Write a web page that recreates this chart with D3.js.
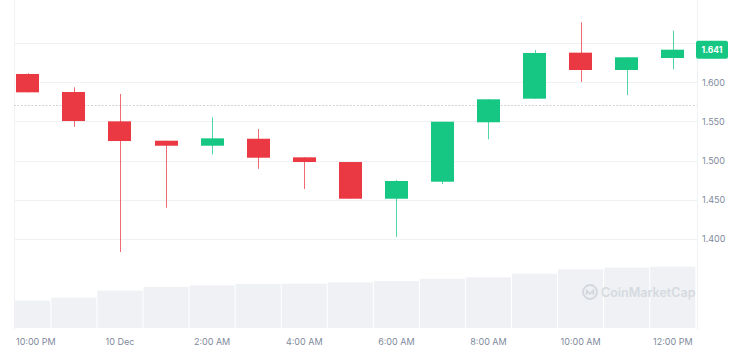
<!DOCTYPE html>
<html>
<head>
<meta charset="utf-8">
<script src="https://cdn.jsdelivr.net/npm/d3@7"></script>
<style>
  html, body { margin: 0; padding: 0; background: #fff; }
  svg { display: block; font-family: Inter, "Noto Sans", sans-serif; }
</style>
</head>
<body>
<svg id="chart" width="740" height="357"></svg>
<script>
// ---- data ----
const times = ["2023-12-09T22:00","2023-12-09T23:00","2023-12-10T00:00","2023-12-10T01:00","2023-12-10T02:00",
  "2023-12-10T03:00","2023-12-10T04:00","2023-12-10T05:00","2023-12-10T06:00","2023-12-10T07:00",
  "2023-12-10T08:00","2023-12-10T09:00","2023-12-10T10:00","2023-12-10T11:00","2023-12-10T12:00"];
const open  = [1.6106,1.5876,1.5502,1.5255,1.5191,1.5280,1.5043,1.4983,1.4515,1.4732,1.5490,1.5791,1.6378,1.6157,1.6310];
const high  = [1.6115,1.5936,1.5851,1.5255,1.5553,1.5404,1.5043,1.4983,1.4753,1.5497,1.5783,1.6412,1.6766,1.6319,1.6658];
const low   = [1.5872,1.5433,1.3835,1.4400,1.5081,1.4897,1.4638,1.4515,1.4030,1.4702,1.5273,1.5791,1.6004,1.5838,1.6166];
const close = [1.5872,1.5506,1.5251,1.5191,1.5285,1.5038,1.4983,1.4515,1.4741,1.5497,1.5783,1.6374,1.6157,1.6319,1.6416];
const volume = [273,303,373,410,427,440,443,457,470,493,507,543,587,603,613];
const priceTicks = [1.400,1.450,1.500,1.550,1.600,1.650];
const priceLabels = ["1.400","1.450","1.500","1.550","1.600"];
const xTickTimes = ["2023-12-09T22:00","2023-12-10T00:00","2023-12-10T02:00","2023-12-10T04:00","2023-12-10T06:00","2023-12-10T08:00","2023-12-10T10:00","2023-12-10T12:00"];
const xTickLabels = ["10:00 PM","10 Dec","2:00 AM","4:00 AM","6:00 AM","8:00 AM","10:00 AM","12:00 PM"];
const referencePrice = 1.571;
const lastPrice = 1.641;

// ---- layout ----
const svg = d3.select("#chart");
const plotL = 14, plotR = 697, volBottom = 328, plotBottom = 330;
const RED = "#ea3943", GREEN = "#16c784";
const parse = d3.isoParse;
const t0 = parse(times[0]);
const hour = 3600e3;
const x = d3.scaleTime()
  .domain([new Date(+t0 - 0.3 * hour), new Date(+t0 + 14.526 * hour)])
  .range([plotL, plotR]);
const step = x(parse(times[1])) - x(parse(times[0]));
const y = d3.scaleLinear().domain([1.35, 1.70]).range([278.3, 3.9]);
const yv = d3.scaleLinear().domain([0, 1000]).range([volBottom, volBottom - 100]);

const defs = svg.append("defs");
defs.append("clipPath").attr("id", "plotclip")
  .append("rect").attr("x", plotL).attr("y", 0).attr("width", plotR - plotL).attr("height", plotBottom);

// grid
svg.append("g").selectAll("line").data(priceTicks).join("line")
  .attr("x1", plotL).attr("x2", plotR)
  .attr("y1", d => Math.round(y(d)) + 0.5).attr("y2", d => Math.round(y(d)) + 0.5)
  .attr("stroke", "#eff2f5").attr("stroke-width", 1);

// borders
[plotL, plotR].forEach(px => {
  svg.append("line").attr("x1", px + 0.5).attr("x2", px + 0.5).attr("y1", 0).attr("y2", plotBottom)
    .attr("stroke", "#eff2f5");
});

// volume
svg.append("g").attr("clip-path", "url(#plotclip)")
  .selectAll("rect").data(volume).join("rect")
  .attr("x", (d, i) => x(parse(times[i])) - step / 2 + 0.5)
  .attr("width", step - 1)
  .attr("y", d => yv(d))
  .attr("height", d => volBottom - yv(d))
  .attr("fill", "#eff1f4");

// watermark
const wm = svg.append("g").attr("transform", "translate(590,292)");
wm.append("circle").attr("r", 7).attr("fill", "none").attr("stroke", "#d3d7de").attr("stroke-width", 1.8);
wm.append("path").attr("d", "M-3.5,3 L-3.5,-2 L0,2 L3.5,-2 L3.5,3").attr("fill", "none")
  .attr("stroke", "#d3d7de").attr("stroke-width", 1.6).attr("stroke-linejoin", "round");
wm.append("text").attr("x", 11).attr("y", 4.5).text("CoinMarketCap")
  .attr("font-size", 12.5).attr("font-weight", 600).attr("fill", "#d6dae0");

// reference dashed line
svg.append("line").attr("x1", plotL).attr("x2", plotR)
  .attr("y1", Math.round(y(referencePrice)) + 0.5).attr("y2", Math.round(y(referencePrice)) + 0.5)
  .attr("stroke", "#cfd4db").attr("stroke-dasharray", "2,1.5");

// candles
const idx = d3.range(times.length);
const cw = 23;
const candles = svg.append("g").selectAll("g").data(idx).join("g");
candles.append("line")
  .attr("x1", i => Math.round(x(parse(times[i]))) + 0.5)
  .attr("x2", i => Math.round(x(parse(times[i]))) + 0.5)
  .attr("y1", i => y(high[i])).attr("y2", i => y(low[i]))
  .attr("stroke", i => close[i] >= open[i] ? GREEN : RED)
  .attr("stroke-opacity", 0.75);
candles.append("rect")
  .attr("x", i => Math.round(x(parse(times[i])) - cw / 2))
  .attr("width", cw)
  .attr("y", i => y(Math.max(open[i], close[i])))
  .attr("height", i => Math.max(1, Math.abs(y(open[i]) - y(close[i]))))
  .attr("fill", i => close[i] >= open[i] ? GREEN : RED);

// y labels
svg.append("g").selectAll("text").data(priceLabels).join("text")
  .attr("x", 702).attr("y", d => y(+d) + 3.3)
  .text(d => d)
  .attr("font-size", 9).attr("fill", "#808a9d");

// last price label
const ly = y(lastPrice);
svg.append("rect").attr("x", 696).attr("y", ly - 9.5).attr("width", 32).attr("height", 18)
  .attr("rx", 2).attr("fill", GREEN);
svg.append("text").attr("x", 712).attr("y", ly + 3).attr("text-anchor", "middle")
  .text(d3.format(".3f")(lastPrice))
  .attr("font-size", 8.5).attr("font-weight", 700).attr("fill", "#fff");

// x labels
svg.append("g").selectAll("text").data(xTickTimes).join("text")
  .attr("x", d => x(parse(d)))
  .attr("y", 344.5)
  .attr("text-anchor", "middle")
  .text((d, i) => xTickLabels[i])
  .attr("font-size", 9).attr("fill", "#808a9d")
  .each(function () {
    const bb = this.getBBox();
    if (bb.x < plotL + 2) d3.select(this).attr("x", +d3.select(this).attr("x") + (plotL + 2 - bb.x));
  });
</script>
</body>
</html>
